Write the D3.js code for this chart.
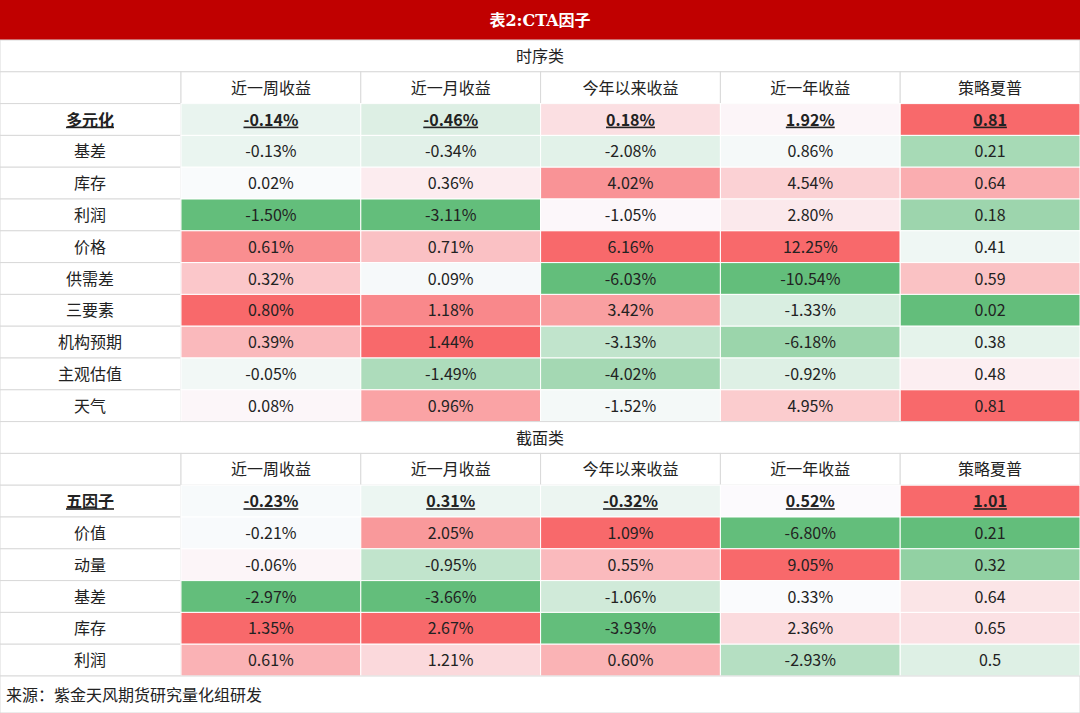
<!DOCTYPE html>
<html><head><meta charset="utf-8">
<script src="https://cdn.jsdelivr.net/npm/d3@7"></script>
<style>body{margin:0;background:#fff}svg{display:block}</style>
</head><body><svg id="c" width="1080" height="713"></svg>
<script>
var title = "表2:CTA因子";
var columns = ["近一周收益", "近一月收益", "今年以来收益", "近一年收益", "策略夏普"];
var section1 = "时序类";
var rows1 = ["多元化", "基差", "库存", "利润", "价格", "供需差", "三要素", "机构预期", "主观估值", "天气"];
var week1 = [-0.14, -0.13, 0.02, -1.50, 0.61, 0.32, 0.80, 0.39, -0.05, 0.08];
var month1 = [-0.46, -0.34, 0.36, -3.11, 0.71, 0.09, 1.18, 1.44, -1.49, 0.96];
var ytd1 = [0.18, -2.08, 4.02, -1.05, 6.16, -6.03, 3.42, -3.13, -4.02, -1.52];
var year1 = [1.92, 0.86, 4.54, 2.80, 12.25, -10.54, -1.33, -6.18, -0.92, 4.95];
var sharpe1 = [0.81, 0.21, 0.64, 0.18, 0.41, 0.59, 0.02, 0.38, 0.48, 0.81];
var section2 = "截面类";
var rows2 = ["五因子", "价值", "动量", "基差", "库存", "利润"];
var week2 = [-0.23, -0.21, -0.06, -2.97, 1.35, 0.61];
var month2 = [0.31, 2.05, -0.95, -3.66, 2.67, 1.21];
var ytd2 = [-0.32, 1.09, 0.55, -1.06, -3.93, 0.60];
var year2 = [0.52, -6.80, 9.05, 0.33, 2.36, -2.93];
var sharpe2 = [1.01, 0.21, 0.32, 0.64, 0.65, 0.5];
var footer = "来源：紫金天风期货研究量化组研发";

var svg = d3.select("#c");
var font = "'Liberation Sans Narrow','Noto Sans CJK SC',sans-serif";
var cjk = "'Noto Sans CJK SC',sans-serif";
var x = d3.scaleBand().domain(d3.range(5)).range([181, 1080]);
var rh = 31.8;

svg.append("rect").attr("width", 1080).attr("height", 40).attr("fill", "#c00000");
svg.append("text").attr("x", 540).attr("y", 26).attr("text-anchor", "middle")
  .attr("fill", "#fff").attr("font-weight", "bold").attr("font-size", 16)
  .attr("font-family", "'DejaVu Serif','Noto Sans CJK SC',serif").text(title);

function block(y0, name, rows, cols, fmt) {
  svg.append("rect").attr("x", 0).attr("y", y0).attr("width", 1080).attr("height", rh)
    .attr("fill", "#fff").attr("stroke", "#d9d9d9");
  svg.append("text").attr("x", 540).attr("y", y0 + 22).attr("text-anchor", "middle")
    .attr("font-size", 16).attr("font-family", cjk).attr("fill", "#222").text(name);
  var hy = y0 + rh;
  svg.append("rect").attr("x", 0).attr("y", hy).attr("width", 181).attr("height", rh)
    .attr("fill", "#fff").attr("stroke", "#d9d9d9");
  columns.forEach(function (c, i) {
    svg.append("rect").attr("x", x(i)).attr("y", hy).attr("width", x.bandwidth()).attr("height", rh)
      .attr("fill", "#fff").attr("stroke", "#d9d9d9");
    svg.append("text").attr("x", x(i) + x.bandwidth() / 2).attr("y", hy + 22).attr("text-anchor", "middle")
      .attr("font-size", 16).attr("font-family", cjk).attr("fill", "#222").text(c);
  });
  var by = hy + rh;
  rows.forEach(function (r, j) {
    var yy = by + j * rh;
    svg.append("rect").attr("x", 0).attr("y", yy).attr("width", 181).attr("height", rh)
      .attr("fill", "#fff").attr("stroke", "#d9d9d9");
    svg.append("text").attr("x", 90).attr("y", yy + 22).attr("text-anchor", "middle")
      .attr("font-size", 16).attr("font-family", cjk).attr("fill", "#222")
      .attr("font-weight", j === 0 ? "bold" : null)
      .attr("text-decoration", j === 0 ? "underline" : null).text(r);
  });
  cols.forEach(function (vals, i) {
    var med = d3.median(vals);
    var col = d3.scaleLinear().domain([d3.min(vals), med, d3.max(vals)])
      .range(["#63be7b", "#fcfcff", "#f8696b"]);
    var g = svg.append("g");
    g.selectAll("rect").data(vals).enter().append("rect")
      .attr("x", x(i)).attr("y", function (d, j) { return by + j * rh; })
      .attr("width", x.bandwidth()).attr("height", rh)
      .attr("fill", function (d) { return col(d); }).attr("stroke", "#fff");
    g.selectAll("text").data(vals).enter().append("text")
      .attr("x", x(i) + x.bandwidth() / 2).attr("y", function (d, j) { return by + j * rh + 22; })
      .attr("text-anchor", "middle").attr("font-size", 16).attr("font-family", font).attr("fill", "#222")
      .attr("font-weight", function (d, j) { return j === 0 ? "bold" : null; })
      .attr("text-decoration", function (d, j) { return j === 0 ? "underline" : null; })
      .text(function (d) { return i < 4 ? d.toFixed(2) + "%" : fmt(d); });
  });
  return by + rows.length * rh;
}
var fmtS = function (d) { return d === 0.5 ? "0.5" : d.toFixed(2); };
var y1 = block(40, section1, rows1, [week1, month1, ytd1, year1, sharpe1], fmtS);
var y2 = block(y1, section2, rows2, [week2, month2, ytd2, year2, sharpe2], fmtS);
svg.append("rect").attr("x", 0).attr("y", y2).attr("width", 1080).attr("height", 713 - y2)
  .attr("fill", "#fff").attr("stroke", "#d9d9d9");
svg.append("text").attr("x", 6).attr("y", y2 + 25).attr("font-size", 16).attr("font-family", cjk)
  .attr("fill", "#222").text(footer);
</script></body></html>
